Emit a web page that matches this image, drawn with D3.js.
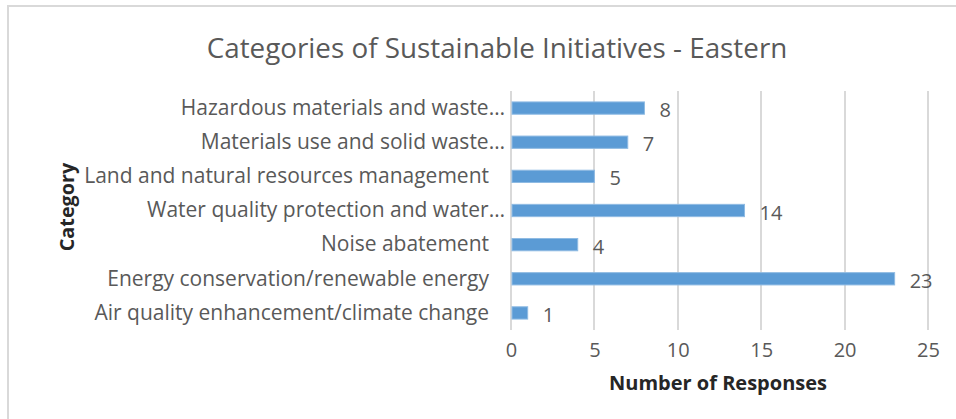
<!DOCTYPE html>
<html lang="en">
  <head>
    <meta charset="utf-8" />
    <title>Sustainable Initiatives - Eastern</title>
    <script src="https://d3js.org/d3.v7.min.js"></script>
    <style>
      body {
        padding: 0;
        margin: 0;
        background: #fff;
      }
      svg text {
        font-family: "Open Sans", Lato, sans-serif;
      }
      .grid line {
        stroke: #d9d9d9;
        stroke-width: 1.5px;
        shape-rendering: crispEdges;
      }
      .bar {
        fill: #5b9bd5;
        stroke: #8fbbe3;
        stroke-width: 1px;
      }
    </style>
  </head>
  <body>
    <svg id="chart" width="956" height="419"></svg>

    <script>
      // categories, top to bottom
      var categories = [
        "Hazardous materials and waste…",
        "Materials use and solid waste…",
        "Land and natural resources management",
        "Water quality protection and water…",
        "Noise abatement",
        "Energy conservation/renewable energy",
        "Air quality enhancement/climate change"
      ];
      var responses = [8, 7, 5, 14, 4, 23, 1];
      var xTicks = [0, 5, 10, 15, 20, 25];

      var data = categories.map(function(c, i) {
        return {category: c, value: responses[i]};
      });

      var svg = d3.select("#chart");
      var W = 956, H = 419;
      var plot = {left: 511, right: 928, top: 91, bottom: 330};

      // outer frame
      svg.append("rect")
        .attr("x", 8)
        .attr("y", 6)
        .attr("width", W + 10)
        .attr("height", H + 10)
        .attr("fill", "none")
        .attr("stroke", "#d9d9d9")
        .attr("stroke-width", 2);

      // title
      svg.append("text")
        .attr("x", 497)
        .attr("y", 58)
        .attr("text-anchor", "middle")
        .attr("font-size", 27.8)
        .attr("fill", "#595959")
        .text("Categories of Sustainable Initiatives - Eastern");

      var x = d3.scaleLinear()
        .domain([0, 25])
        .range([plot.left, plot.right]);

      var y = d3.scaleBand()
        .domain(categories)
        .range([plot.top, plot.bottom])
        .paddingInner(0.64)
        .paddingOuter(0.32);

      // vertical gridlines
      svg.append("g")
        .attr("class", "grid")
        .selectAll("line")
        .data(xTicks)
        .enter()
        .append("line")
        .attr("x1", function(d){ return Math.round(x(d)); })
        .attr("x2", function(d){ return Math.round(x(d)); })
        .attr("y1", plot.top)
        .attr("y2", plot.bottom);

      // bottom axis tick labels
      var xAxis = svg.append("g")
        .attr("transform", "translate(0," + plot.bottom + ")")
        .call(d3.axisBottom(x).tickValues(xTicks).tickSize(0).tickPadding(13));
      xAxis.select(".domain").remove();
      xAxis.selectAll("text")
        .attr("font-size", 20)
        .attr("fill", "#595959");

      // category labels
      var yAxis = svg.append("g")
        .attr("transform", "translate(" + plot.left + ",0)")
        .call(d3.axisLeft(y).tickSize(0).tickPadding(22));
      yAxis.select(".domain").remove();
      yAxis.selectAll("text")
        .attr("font-size", 21)
        .attr("fill", "#595959")
        .attr("dx", function(d){ return d.slice(-1) === "…" ? 16 : 0; });

      // bars
      svg.append("g")
        .selectAll("rect")
        .data(data)
        .enter()
        .append("rect")
        .attr("class", "bar")
        .attr("x", x(0) + 1)
        .attr("y", function(d){ return y(d.category); })
        .attr("width", function(d){ return x(d.value) - x(0) - 1; })
        .attr("height", y.bandwidth());

      // value labels
      svg.append("g")
        .selectAll("text")
        .data(data)
        .enter()
        .append("text")
        .attr("x", function(d){ return x(d.value) + 15; })
        .attr("y", function(d){ return y(d.category) + y.bandwidth() / 2 + 2; })
        .attr("dy", "0.35em")
        .attr("font-size", 20)
        .attr("fill", "#595959")
        .text(function(d){ return d.value; });

      // axis titles
      svg.append("text")
        .attr("x", 718)
        .attr("y", 390)
        .attr("text-anchor", "middle")
        .attr("font-size", 20)
        .attr("font-weight", "bold")
        .attr("fill", "#262626")
        .text("Number of Responses");

      svg.append("text")
        .attr("transform", "translate(74,207) rotate(-90)")
        .attr("text-anchor", "middle")
        .attr("font-size", 19.8)
        .attr("font-weight", "bold")
        .attr("fill", "#262626")
        .text("Category");
    </script>
  </body>
</html>
